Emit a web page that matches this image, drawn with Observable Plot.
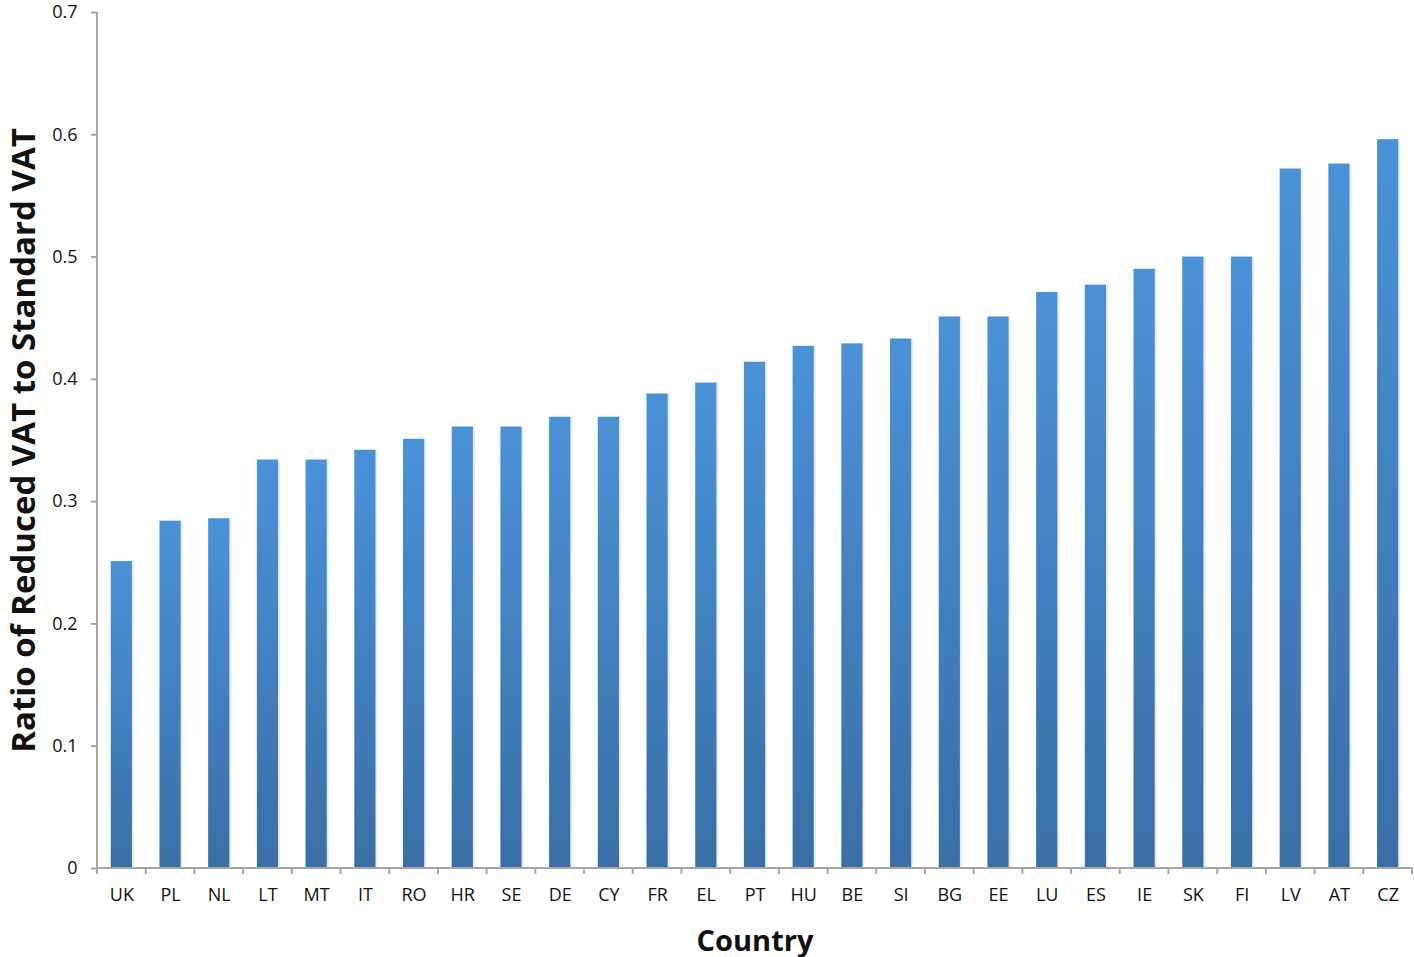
<!DOCTYPE html>
<html>
<head>
<meta charset="utf-8">
<script src="https://cdn.jsdelivr.net/npm/d3@7"></script>
<script src="https://cdn.jsdelivr.net/npm/@observablehq/plot@0.6"></script>
<style>
  html, body { margin: 0; padding: 0; background: #fff; }
  #chart { width: 1414px; height: 957px; }
</style>
</head>
<body>
<div id="chart"></div>
<script>
const countries = ["UK","PL","NL","LT","MT","IT","RO","HR","SE","DE","CY","FR","EL","PT","HU","BE","SI","BG","EE","LU","ES","IE","SK","FI","LV","AT","CZ"];
const ratios = [0.251,0.284,0.286,0.334,0.334,0.342,0.351,0.361,0.361,0.369,0.369,0.388,0.397,0.414,0.427,0.429,0.433,0.451,0.451,0.471,0.477,0.490,0.500,0.500,0.572,0.576,0.596];
const yTicks = [0,0.1,0.2,0.3,0.4,0.5,0.6,0.7];

const data = countries.map((c, i) => ({country: c, ratio: ratios[i]}));
const font = "'Open Sans', 'DejaVu Sans', sans-serif";
const axisColor = "#a6a6a6";
const padIn = 0.565;

// band-boundary ticks and axis lines, derived from the scales
function boundaryTicks(index, scales, values, dimensions) {
  const x = scales.x, y = scales.y;
  const bw = x.bandwidth();
  const step = bw / (1 - padIn);
  const g = d3.create("svg:g");
  const y0 = y(0);
  const edges = countries.map(c => x(c) - (step - bw) / 2);
  edges.push(edges[edges.length - 1] + step);
  for (const e of edges) {
    g.append("line").attr("x1", e).attr("x2", e).attr("y1", y0).attr("y2", y0 + 6)
      .attr("stroke", axisColor).attr("stroke-width", 2);
  }
  g.append("line").attr("x1", edges[0]).attr("x2", edges[edges.length - 1])
    .attr("y1", y0).attr("y2", y0).attr("stroke", axisColor).attr("stroke-width", 2);
  g.append("line").attr("x1", edges[0]).attr("x2", edges[0])
    .attr("y1", y(0.7)).attr("y2", y0).attr("stroke", axisColor).attr("stroke-width", 2);
  return g.node();
}

const plot = Plot.plot({
  width: 1414,
  height: 957,
  marginLeft: 97,
  marginRight: 2,
  marginTop: 12,
  marginBottom: 89,
  style: {fontFamily: font, background: "#fff"},
  x: {domain: countries, paddingInner: padIn, paddingOuter: padIn / 2, align: 0.5, round: false, label: null},
  y: {domain: [0, 0.7], label: null},
  marks: [
    Plot.barY(data, {x: "country", y: "ratio", fill: "#000", fillOpacity: 0.08, dx: 2}),
    Plot.barY(data, {x: "country", y: "ratio", fill: "url(#barGrad)"}),
    Plot.axisY({ticks: yTicks, tickSize: 6, tickPadding: 14, stroke: axisColor, strokeWidth: 2,
      tickFormat: d => d === 0 ? "0" : d.toFixed(1), fontSize: 18, fill: "#111", label: null}),
    Plot.axisX({tickSize: 0, tickPadding: 20, fontSize: 18, fill: "#111", label: null}),
    boundaryTicks,
    Plot.text(["Country"], {frameAnchor: "bottom", dy: 82, fontSize: 29, fontWeight: "bold", fill: "#111", lineAnchor: "bottom", text: d => d}),
    Plot.text(["Ratio of Reduced VAT to Standard VAT"], {frameAnchor: "left", dx: -73, rotate: -90, textAnchor: "middle", fontSize: 33, fontWeight: "bold", fill: "#111", text: d => d})
  ]
});

const svg = d3.select(plot);
const defs = svg.insert("defs", ":first-child");
const grad = defs.append("linearGradient").attr("id", "barGrad")
  .attr("x1", 0).attr("y1", 0).attr("x2", 0).attr("y2", 1);
grad.append("stop").attr("offset", "0%").attr("stop-color", "#4a92d8");
grad.append("stop").attr("offset", "100%").attr("stop-color", "#386fa6");

document.getElementById("chart").appendChild(plot);
</script>
</body>
</html>
